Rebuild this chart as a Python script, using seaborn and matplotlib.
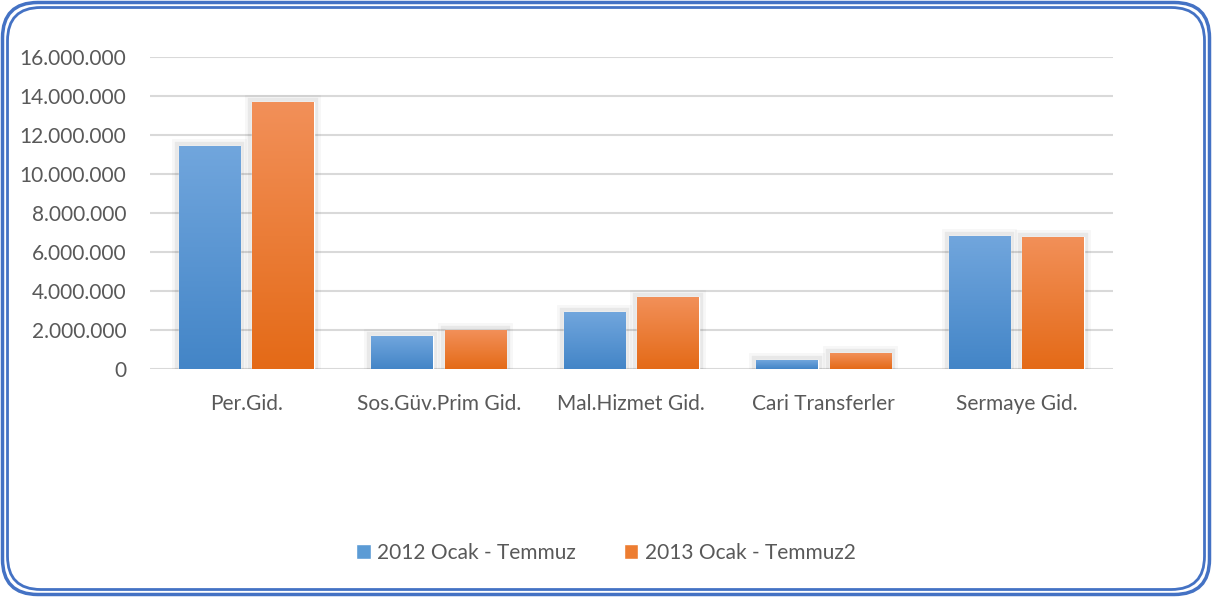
import numpy as np
import pandas as pd
import matplotlib
matplotlib.use("Agg")
import matplotlib.pyplot as plt
import matplotlib.patheffects as pe
from matplotlib.patches import FancyBboxPatch, Patch
from matplotlib.ticker import FuncFormatter
import seaborn as sns

categories = ["Per.Gid.", "Sos.Güv.Prim Gid.", "Mal.Hizmet Gid.", "Cari Transferler", "Sermaye Gid."]
series_names = ["2012 Ocak - Temmuz", "2013 Ocak - Temmuz2"]
values_2012 = [11440000, 1690000, 2920000, 460000, 6820000]
values_2013 = [13690000, 2000000, 3690000, 820000, 6770000]
yticks = [0, 2000000, 4000000, 6000000, 8000000, 10000000, 12000000, 14000000, 16000000]

df = pd.DataFrame({
    "cat": categories * 2,
    "series": [series_names[0]] * 5 + [series_names[1]] * 5,
    "value": values_2012 + values_2013,
})

sns.set_theme(style="white")
plt.rcParams["font.family"] = ["Lato", "DejaVu Sans"]
text_color = "#595959"
fs = 15

fig = plt.figure(figsize=(12.12, 5.97), dpi=100)
ax = fig.add_axes([0.1238, 0.3819, 0.7942, 0.5226])

flat = {series_names[0]: "#5B9BD5", series_names[1]: "#ED7D31"}
sns.barplot(data=df, x="cat", y="value", hue="series", palette=flat,
            width=0.766, gap=0.165, ax=ax, legend=False, saturation=1, zorder=3)

grads = [("#71A6DD", "#4385C7"), ("#F29059", "#E46A17")]
for i, cont in enumerate(ax.containers):
    top, bot = grads[i]
    cmap = matplotlib.colors.LinearSegmentedColormap.from_list("g", [bot, top])
    for bar in cont:
        bar.set_path_effects([
            pe.SimplePatchShadow(offset=(0, -1.5), shadow_rgbFace="#000000", alpha=0.12),
            pe.Stroke(linewidth=10, foreground="#000000", alpha=0.03),
            pe.Stroke(linewidth=6, foreground="#000000", alpha=0.06),
            pe.Normal(),
        ])
        x0, y0 = bar.get_x(), bar.get_y()
        w, h = bar.get_width(), bar.get_height()
        grad = np.linspace(0, 1, 256).reshape(-1, 1)
        im = ax.imshow(grad, cmap=cmap, origin="lower", aspect="auto",
                       extent=(x0, x0 + w, y0, y0 + h), zorder=3.5)
        im.set_clip_path(bar)

ax.set_xlim(-0.5, 4.5)
ax.set_ylim(0, 16000000)
ax.set_yticks(yticks)
ax.yaxis.set_major_formatter(FuncFormatter(lambda v, p: f"{int(v):,}".replace(",", ".")))
ax.grid(axis="y", color="#D9D9D9", linewidth=1.5, zorder=0)
ax.set_axisbelow(True)
for s in ax.spines.values():
    s.set_visible(False)
ax.tick_params(axis="both", length=0, labelsize=fs, colors=text_color)
ax.tick_params(axis="y", pad=17)
ax.tick_params(axis="x", pad=18)
ax.set_xlabel("")
ax.set_ylabel("")

handles = [Patch(facecolor="#5B9BD5"), Patch(facecolor="#ED7D31")]
leg = fig.legend(handles, series_names, loc="center", bbox_to_anchor=(0.5, 0.074),
                 ncol=2, frameon=False, fontsize=fs, handlelength=0.7, handleheight=0.7,
                 handletextpad=0.3, columnspacing=2.3)
for t in leg.get_texts():
    t.set_color(text_color)

# double rounded border
W, H = 1212, 597
for inset, lw in [(2.5, 2.5), (7.5, 2.0)]:
    box = FancyBboxPatch((inset / W, inset / H), 1 - 2 * inset / W, 1 - 2 * inset / H,
                         boxstyle=f"round,pad=0,rounding_size={0.03 - inset/3000}",
                         transform=fig.transFigure, fill=False, edgecolor="#4472C4",
                         linewidth=lw, mutation_aspect=W / H)
    fig.patches.append(box)

fig.savefig("out.png", dpi=100)
